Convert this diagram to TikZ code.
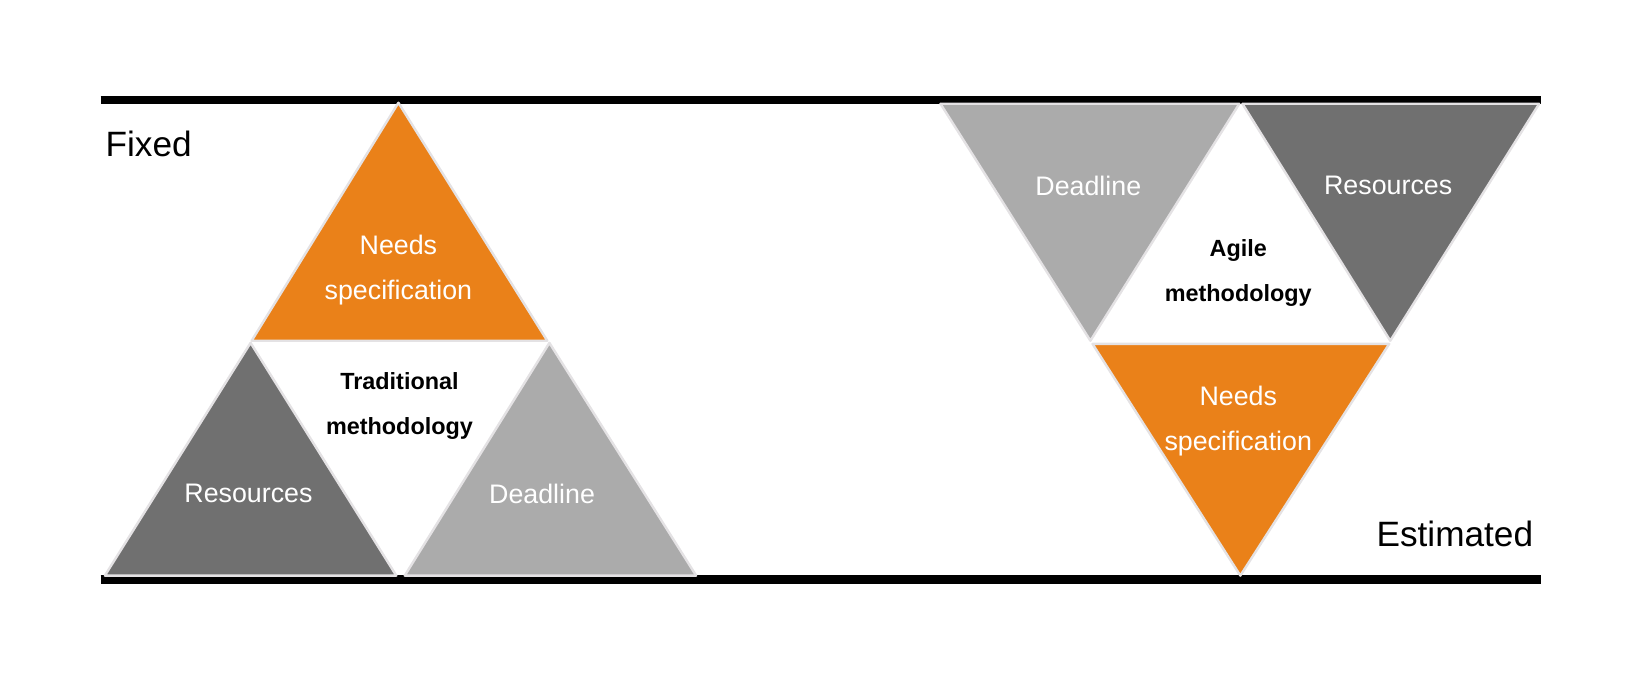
\documentclass[tikz,border=0pt]{standalone}
\usepackage{fontspec}
\setmainfont{Liberation Sans}
\usepackage{tikz}
\definecolor{needsorange}{HTML}{EA8119}
\definecolor{resgray}{HTML}{707070}
\definecolor{dlgray}{HTML}{ABABAB}
\definecolor{edgegray}{HTML}{E4E2E4}

\begin{document}
\begin{tikzpicture}[x=0.5242pt, y=-0.5242pt,
    tri/.style={draw=edgegray, line width=1.2pt, line join=round},
    bar/.style={line width=4.3pt},
    lbl/.style={text=white, align=center, font=\fontsize{13.4}{22.5}\selectfont},
    meth/.style={align=center, font=\fontsize{11.7}{22.5}\selectfont\bfseries},
    side/.style={font=\fontsize{17.6}{20}\selectfont}]
    \useasboundingbox (0,0) rectangle (1568,652.5);
    % bars
    \coordinate (tl) at (96,95.5);
    \coordinate (tr) at (1470,95.5);
    \coordinate (bl) at (96,552.5);
    \coordinate (br) at (1470,552.5);
    \draw [bar] (tl) -- (tr);
    \draw [bar] (bl) -- (br);
    % traditional
    \filldraw [tri, fill=needsorange] (380,98) -- (522,325) -- (240,325) -- cycle;
    \filldraw [tri, fill=resgray] (239,327) -- (378,549) -- (100,549) -- cycle;
    \filldraw [tri, fill=dlgray] (524,327) -- (664,549) -- (386,549) -- cycle;
    \node (needsL) [lbl] at (380,258) {Needs\\specification};
    \node (tradL) [meth] at (381,387) {Traditional\\methodology};
    \node (resL) [lbl] at (237,471) {Resources};
    \node (dlL) [lbl] at (517,471) {Deadline};
    % agile
    \filldraw [tri, fill=dlgray] (897,99) -- (1182,99) -- (1040,325) -- cycle;
    \filldraw [tri, fill=resgray] (1185,99) -- (1468,99) -- (1326,325) -- cycle;
    \filldraw [tri, fill=needsorange] (1042,328) -- (1325,328) -- (1183,549) -- cycle;
    \node (dlR) [lbl] at (1038,177) {Deadline};
    \node (resR) [lbl] at (1324,177) {Resources};
    \node (agileR) [meth] at (1181,260) {Agile\\methodology};
    \node (needsR) [lbl] at (1181,402) {Needs\\specification};
    % sides
    \node (fixed) [side, anchor=west] at (94,137) {Fixed};
    \node (est) [side, anchor=east] at (1469,509) {Estimated};
\end{tikzpicture}
\end{document}
